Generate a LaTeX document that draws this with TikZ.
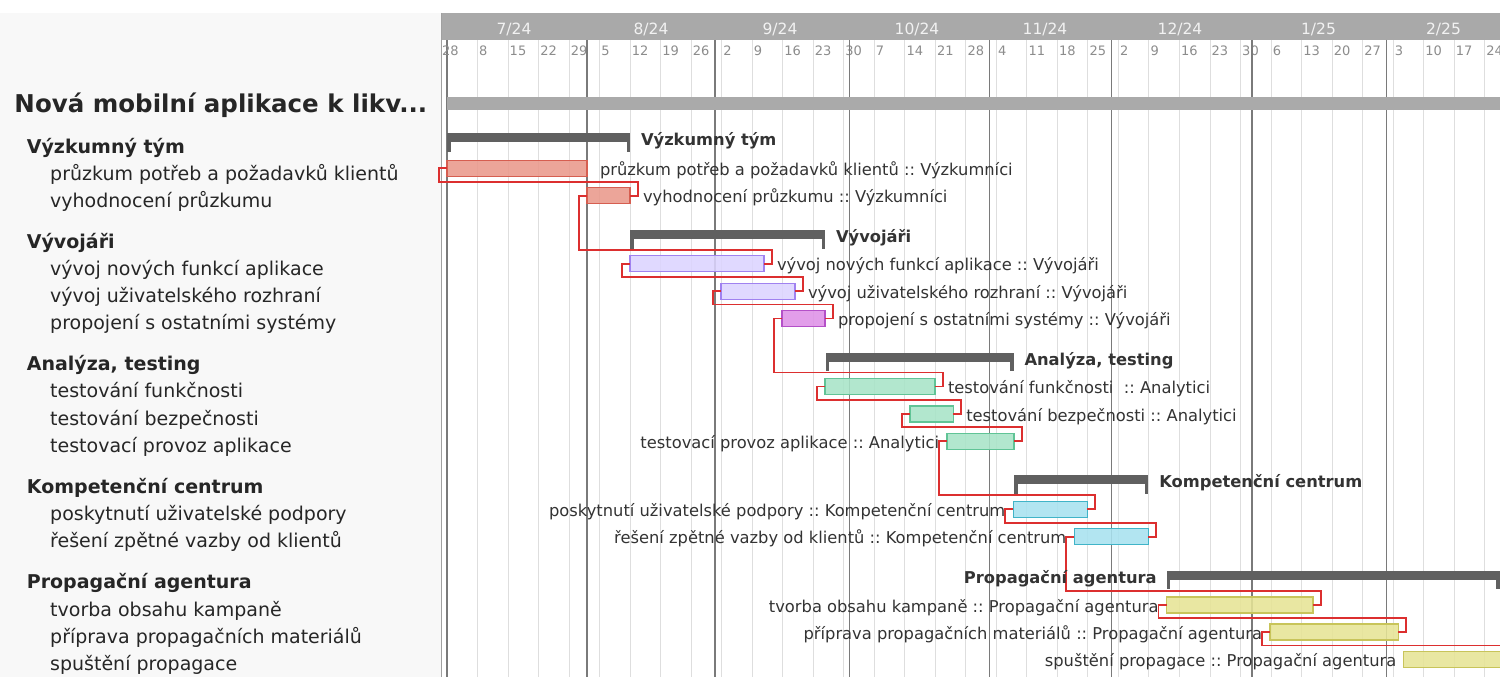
\documentclass[tikz,border=0pt]{standalone}
\usepackage{fontspec}
\setmainfont{DejaVu Sans}
\usepackage{tikz}
\usetikzlibrary{positioning, calc}
\frenchspacing

\definecolor{hdrgray}{HTML}{A9A9A9}
\definecolor{hdrtext}{HTML}{F2F2F2}
\definecolor{daytext}{HTML}{8C8C8C}
\definecolor{weekgray}{HTML}{DEDEDE}
\definecolor{monthgray}{HTML}{7A7A7A}
\definecolor{sidebg}{HTML}{F8F8F8}
\definecolor{sideline}{HTML}{A0A0A0}
\definecolor{inktext}{HTML}{262626}
\definecolor{charttext}{HTML}{333333}
\definecolor{grpgray}{HTML}{606060}
\definecolor{topbar}{HTML}{AAAAAA}
\definecolor{depred}{HTML}{DC2F2F}
\definecolor{researchfill}{HTML}{EA998C}
\definecolor{researchline}{HTML}{D65E50}
\definecolor{devfill}{HTML}{DCD4FF}
\definecolor{devline}{HTML}{A082F0}
\definecolor{linkfill}{HTML}{DE91E8}
\definecolor{linkline}{HTML}{B450C8}
\definecolor{testfill}{HTML}{A8E4C8}
\definecolor{testline}{HTML}{60C496}
\definecolor{supportfill}{HTML}{A8E2F0}
\definecolor{supportline}{HTML}{40B4C8}
\definecolor{promofill}{HTML}{E6E496}
\definecolor{promoline}{HTML}{C8C45A}

\newcommand{\chartfont}{\fontsize{16.3bp}{19bp}\selectfont}
\newcommand{\sidefont}{\fontsize{19bp}{22bp}\selectfont}

\tikzset{
  weekline/.style={draw=weekgray, line width=1bp},
  monthline/.style={draw=monthgray, line width=1.3bp},
  daylbl/.style={font=\fontsize{13bp}{15bp}\selectfont, text=daytext, inner sep=0pt, anchor=base west},
  monthlbl/.style={font=\fontsize{15.5bp}{18bp}\selectfont, text=hdrtext, inner sep=0pt, anchor=base},
  taskbar/.style={draw, line width=1.3bp, minimum height=16bp, inner sep=0pt, outer sep=0pt, anchor=west, fill opacity=.88},
  researchbar/.style={taskbar, fill=researchfill, draw=researchline},
  devbar/.style={taskbar, fill=devfill, draw=devline},
  linkbar/.style={taskbar, fill=linkfill, draw=linkline},
  testbar/.style={taskbar, fill=testfill, draw=testline},
  supportbar/.style={taskbar, fill=supportfill, draw=supportline},
  promobar/.style={taskbar, fill=promofill, draw=promoline},
  grpbar/.style={fill=grpgray, minimum height=9bp, inner sep=0pt, outer sep=0pt, anchor=north west},
  dep/.style={draw=depred, line width=1.7bp},
  tasklbl/.style={font=\chartfont, text=charttext, inner sep=0pt, outer sep=0pt, text height=17bp, text depth=3bp},
  grplbl/.style={font=\chartfont\bfseries, text=charttext, inner sep=0pt, outer sep=0pt, text height=19bp, text depth=3bp},
  side/.style={font=\sidefont, text=inktext, inner sep=0pt, anchor=base west},
  sidegrp/.style={side, font=\sidefont\bfseries}
}

\begin{document}
\begin{tikzpicture}[x=1bp, y=-1bp]
\useasboundingbox (0,0) rectangle (1500,677);
\clip (0,0) rectangle (1500,677);
\fill[white] (0,0) rectangle (1500,677);
\fill[sidebg] (0,13) rectangle (441.5,677);
\fill[hdrgray] (441.5,13) rectangle (1500,40);

\foreach \wk [count=\k] in {8,15,22,29,5,12,19,26,2,9,16,23,30,7,14,21,28,4,11,18,25,2,9,16,23,30,6,13,20,27,3,10,17,24} {
  \draw[weekline] (447+30.52*\k,40) -- (447+30.52*\k,677);
  \node[daylbl] (d\k) at (448.5+30.52*\k,55.5) {\wk};
}
\foreach \mx in {447,587,715,849.5,989.3,1111.7,1252,1386.3}
  \draw[monthline] (\mx,40) -- (\mx,677);
\draw[sideline] (441.5,13) -- (441.5,677);
\node[daylbl] (d0) at (442,55.5) {28};

\node[monthlbl] (m7) at (514,35) {7/24};
\node[monthlbl] (m8) at (651,35) {8/24};
\node[monthlbl] (m9) at (780,35) {9/24};
\node[monthlbl] (m10) at (917,35) {10/24};
\node[monthlbl] (m11) at (1045,35) {11/24};
\node[monthlbl] (m12) at (1180,35) {12/24};
\node[monthlbl] (m1) at (1318.5,35) {1/25};
\node[monthlbl] (m2) at (1443.5,35) {2/25};

\fill[topbar] (447,97) rectangle (1500,110);

\node[grpbar, minimum width=183bp] (g1) at (447,133.3) {};
\node[grpbar, minimum width=195bp] (g2) at (630,230) {};
\node[grpbar, minimum width=188bp] (g3) at (825.5,352.7) {};
\node[grpbar, minimum width=134.3bp] (g4) at (1014,475) {};
\node[grpbar, minimum width=332.8bp] (g5) at (1166.7,570.7) {};
\foreach \g in {g1,g2,g3,g4,g5} {
  \fill[grpgray] (\g.north west) rectangle ++(3.5,18.5);
  \fill[grpgray] (\g.north east) rectangle ++(-3.5,18.5);
}

\node[researchbar, minimum width=140bp] (pruzkum) at (447,168.3) {};
\node[researchbar, minimum width=43bp] (vyhod) at (587,195.8) {};
\node[devbar, minimum width=134bp] (funkce) at (630,263.8) {};
\node[devbar, minimum width=74bp] (rozhrani) at (721,291.3) {};
\node[linkbar, minimum width=43bp] (propojeni) at (782,318.6) {};
\node[testbar, minimum width=110bp] (testfunk) at (825,386.6) {};
\node[testbar, minimum width=43.3bp] (testbezp) at (910,414.1) {};
\node[testbar, minimum width=67bp] (provoz) at (947,441.3) {};
\node[supportbar, minimum width=74bp] (podpora) at (1013.3,509.3) {};
\node[supportbar, minimum width=74bp] (zpetna) at (1074.3,536.7) {};
\node[promobar, minimum width=146.5bp] (obsah) at (1166.5,605) {};
\node[promobar, minimum width=128.3bp] (materialy) at (1270,632) {};
\node[promobar, minimum width=160bp] (spusteni) at (1403.3,659.5) {};

\draw[dep] (pruzkum.west) -- ++(-8,0) |- ($(vyhod.north east)+(8,-6)$) |- (vyhod.east);
\draw[dep] (vyhod.west) -- ++(-8,0) |- ($(funkce.north east)+(8,-6)$) |- (funkce.east);
\draw[dep] (funkce.west) -- ++(-8,0) |- ($(rozhrani.north east)+(8,-6)$) |- (rozhrani.east);
\draw[dep] (rozhrani.west) -- ++(-8,0) |- ($(propojeni.north east)+(8,-6)$) |- (propojeni.east);
\draw[dep] (propojeni.west) -- ++(-8,0) |- ($(testfunk.north east)+(8,-6)$) |- (testfunk.east);
\draw[dep] (testfunk.west) -- ++(-8,0) |- ($(testbezp.north east)+(8,-6)$) |- (testbezp.east);
\draw[dep] (testbezp.west) -- ++(-8,0) |- ($(provoz.north east)+(8,-6)$) |- (provoz.east);
\draw[dep] (provoz.west) -- ++(-8,0) |- ($(podpora.north east)+(8,-6)$) |- (podpora.east);
\draw[dep] (podpora.west) -- ++(-8,0) |- ($(zpetna.north east)+(8,-6)$) |- (zpetna.east);
\draw[dep] (zpetna.west) -- ++(-8,0) |- ($(obsah.north east)+(8,-6)$) |- (obsah.east);
\draw[dep] (obsah.west) -- ++(-8,0) |- ($(materialy.north east)+(8,-6)$) |- (materialy.east);
\draw[dep] (materialy.west) -- ++(-8,0) |- ($(spusteni.north east)+(8,-6)$) |- (spusteni.east);

\node[grplbl, right=11bp of g1] (cg1) {Výzkumný tým};
\node[grplbl, right=11bp of g2] (cg2) {Vývojáři};
\node[grplbl, right=11bp of g3] (cg3) {Analýza, testing};
\node[grplbl, right=11bp of g4] (cg4) {Kompetenční centrum};
\node[grplbl, left=10bp of g5] (cg5) {Propagační agentura};

\node[tasklbl, right=13bp of pruzkum] (c1) {průzkum potřeb a požadavků klientů :: Výzkumníci};
\node[tasklbl, right=13bp of vyhod] (c2) {vyhodnocení průzkumu :: Výzkumníci};
\node[tasklbl, right=13bp of funkce] (c3) {vývoj nových funkcí aplikace :: Vývojáři};
\node[tasklbl, right=13bp of rozhrani] (c4) {vývoj uživatelského rozhraní :: Vývojáři};
\node[tasklbl, right=13bp of propojeni] (c5) {propojení s ostatními systémy :: Vývojáři};
\node[tasklbl, right=13bp of testfunk] (c6) {testování funkčnosti\ \ :: Analytici};
\node[tasklbl, right=13bp of testbezp] (c7) {testování bezpečnosti :: Analytici};
\node[tasklbl, left=8bp of provoz] (c8) {testovací provoz aplikace :: Analytici};
\node[tasklbl, left=8bp of podpora] (c9) {poskytnutí uživatelské podpory :: Kompetenční centrum};
\node[tasklbl, left=8bp of zpetna] (c10) {řešení zpětné vazby od klientů :: Kompetenční centrum};
\node[tasklbl, left=8bp of obsah] (c11) {tvorba obsahu kampaně :: Propagační agentura};
\node[tasklbl, left=8bp of materialy] (c12) {příprava propagačních materiálů :: Propagační agentura};
\node[tasklbl, left=7bp of spusteni] (c13) {spuštění propagace :: Propagační agentura};

\node[side, font=\fontsize{24.5bp}{28bp}\selectfont\bfseries] (lt) at (14.3,112.7) {Nová mobilní aplikace k likv...};
\node[sidegrp] (lg1) at (26.7,153.3) {Výzkumný tým};
\node[side] (l1) at (50,180.7) {průzkum potřeb a požadavků klientů};
\node[side] (l2) at (50,207.3) {vyhodnocení průzkumu};
\node[sidegrp] (lg2) at (26.7,248.3) {Vývojáři};
\node[side] (l3) at (50,275) {vývoj nových funkcí aplikace};
\node[side] (l4) at (50,302.7) {vývoj uživatelského rozhraní};
\node[side] (l5) at (50,329.3) {propojení s ostatními systémy};
\node[sidegrp] (lg3) at (26.7,370.7) {Analýza, testing};
\node[side] (l6) at (50,397.3) {testování funkčnosti};
\node[side] (l7) at (50,425) {testování bezpečnosti};
\node[side] (l8) at (50,452.7) {testovací provoz aplikace};
\node[sidegrp] (lg4) at (26.7,493.3) {Kompetenční centrum};
\node[side] (l9) at (50,520) {poskytnutí uživatelské podpory};
\node[side] (l10) at (50,547.3) {řešení zpětné vazby od klientů};
\node[sidegrp] (lg5) at (26.7,588.3) {Propagační agentura};
\node[side] (l11) at (50,616) {tvorba obsahu kampaně};
\node[side] (l12) at (50,643.3) {příprava propagačních materiálů};
\node[side] (l13) at (50,670) {spuštění propagace};
\end{tikzpicture}
\end{document}
